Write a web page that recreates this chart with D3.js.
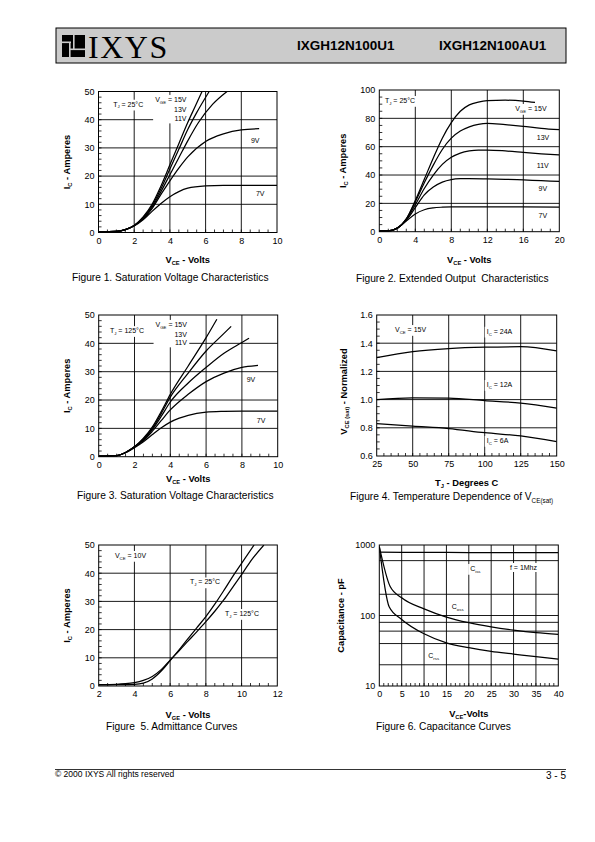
<!DOCTYPE html>
<html><head><meta charset="utf-8">
<script src="https://cdn.jsdelivr.net/npm/d3@7"></script>
<style>
body{margin:0;background:#fff}
svg{display:block}
</style></head><body>
<svg id="page" width="595" height="842"></svg>
<script>
const FONT = '"Liberation Sans", Arial, Helvetica, sans-serif';

// ---------------- header / footer text ----------------
const partNumbers = ["IXGH12N100U1", "IXGH12N100AU1"];
const footerLeft = "© 2000 IXYS All rights reserved";
const footerRight = "3 - 5";

// ---------------- Figure 1 : Saturation (Tj=25C) ----------------
const fig1XTicks = [0, 2, 4, 6, 8, 10];
const fig1YTicks = [0, 10, 20, 30, 40, 50];
const fig1_15V = [[0,0.3],[1,0.4],[1.5,1],[2,2.5],[2.5,5.5],[3,10],[3.5,16.5],[4,24],[4.5,31.5],[5,39],[5.4,44.5],[5.8,50]];
const fig1_13V = [[0,0.3],[1,0.4],[1.5,1],[2,2.5],[2.5,5.3],[3,9.5],[3.5,15.5],[4,22.5],[4.5,29.5],[5,36.5],[5.5,42.5],[6.2,50]];
const fig1_11V = [[0,0.3],[1,0.4],[1.5,1],[2,2.5],[2.5,5],[3,9],[3.5,14.5],[4,20.5],[4.5,26.5],[5,32.5],[5.6,39],[6.4,45.5],[7.2,50]];
const fig1_9V  = [[0,0.3],[1,0.4],[1.5,1],[2,2.5],[2.5,4.8],[3,8.5],[3.5,13.5],[4,18.3],[4.5,22.8],[5,26.8],[6,32.3],[7,35],[8,36.4],[9,36.8]];
const fig1_7V  = [[0,0.3],[1,0.4],[1.5,1],[2,2.3],[2.5,4.5],[3,7.5],[3.5,10.3],[4,12.7],[4.5,14.5],[5,15.7],[6,16.5],[7,16.7],[8,16.7],[10,16.7]];

// ---------------- Figure 2 : Extended output ----------------
const fig2XTicks = [0, 4, 8, 12, 16, 20];
const fig2YTicks = [0, 20, 40, 60, 80, 100];
const fig2_15V = [[0,0.5],[1,0.6],[2,2.5],[3,9],[4,22],[5,37],[6,52],[7,66],[8,77],[9,85],[10,89.5],[11,91.5],[12,92.5],[14,92.8],[16,92.2],[17.3,91.2]];
const fig2_13V = [[0,0.5],[1,0.6],[2,2.5],[3,9],[4,21],[5,34.5],[6,47],[7,58],[8,66],[9,71],[10,74],[11,75.8],[12,76.5],[14,75.5],[16,74.3],[18,73],[20,72]];
const fig2_11V = [[0,0.5],[1,0.6],[2,2.5],[3,8.5],[4,19],[5,30.5],[6,40],[7,47.5],[8,52.5],[9,55.5],[10,57],[11,57.6],[12,57.6],[14,57],[16,56],[18,55],[20,54.2]];
const fig2_9V  = [[0,0.5],[1,0.6],[2,2.5],[3,8],[4,17],[5,26],[6,31.5],[7,35],[8,36.8],[9,37.4],[10,37.5],[12,37.3],[14,37],[16,36.5],[18,36],[20,35.5]];
const fig2_7V  = [[0,0.5],[1,0.6],[2,2.5],[3,7.5],[4,12.5],[5,15.5],[6,16.8],[7,17.3],[8,17.5],[12,17.6],[16,17.5],[20,17.3]];

// ---------------- Figure 3 : Saturation (Tj=125C) ----------------
const fig3XTicks = [0, 2, 4, 6, 8, 10];
const fig3YTicks = [0, 10, 20, 30, 40, 50];
const fig3_15V = [[0,0.2],[1,0.4],[1.5,1.5],[2,3.5],[2.5,6.5],[3,10.5],[3.5,16],[4,22],[5,32],[6,42],[6.6,48.5]];
const fig3_13V = [[0,0.2],[1,0.4],[1.5,1.5],[2,3.5],[2.5,6.3],[3,10],[3.5,15.3],[4,21],[5,29.5],[6,37.3],[7,43.5],[7.4,46]];
const fig3_11V = [[0,0.2],[1,0.4],[1.5,1.5],[2,3.5],[2.5,6],[3,9.6],[3.5,14.3],[4,19.3],[5,26],[6,31.5],[7,36.5],[8,40.3],[8.4,41.8]];
const fig3_9V  = [[0,0.2],[1,0.4],[1.5,1.5],[2,3.5],[2.5,5.7],[3,9],[3.5,12.8],[4,16.5],[5,22],[6,26.5],[7,29.5],[8,31.5],[8.9,32.2]];
const fig3_7V  = [[0,0.2],[1,0.4],[1.5,1.4],[2,3.2],[2.5,5.3],[3,7.8],[3.5,10.2],[4,12.2],[4.5,13.6],[5,14.6],[6,15.7],[7,16],[8,16.1],[10,16.1]];

// ---------------- Figure 4 : Temperature dependence ----------------
const fig4XTicks = [25, 50, 75, 100, 125, 150];
const fig4YTicks = [0.6, 0.8, 1.0, 1.2, 1.4, 1.6];
const fig4_24A = [[25,1.297],[50,1.34],[75,1.362],[100,1.372],[125,1.375],[150,1.345]];
const fig4_12A = [[25,1.0],[50,1.012],[75,1.01],[100,0.993],[125,0.975],[150,0.94]];
const fig4_6A  = [[25,0.83],[50,0.812],[75,0.795],[100,0.765],[125,0.742],[150,0.702]];

// ---------------- Figure 5 : Admittance ----------------
const fig5XTicks = [2, 4, 6, 8, 10, 12];
const fig5YTicks = [0, 10, 20, 30, 40, 50];
const fig5_25C  = [[2,0.4],[3,0.45],[4,0.6],[4.5,1],[5,2.5],[5.5,5.3],[6,9],[6.5,12.8],[7,16.8],[7.5,20.7],[8,24.6],[8.5,29],[9,33.8],[9.5,38.8],[10,43.5],[10.7,50]];
const fig5_125C = [[2,0.5],[3,0.6],[3.5,0.8],[4,1.2],[4.5,2],[5,3.4],[5.5,5.8],[6,9.2],[6.5,12.5],[7,15.9],[7.5,19.3],[8,22.8],[8.5,26.5],[9,30.5],[9.5,35],[10,39.5],[10.5,44.2],[11.25,50]];

// ---------------- Figure 6 : Capacitance ----------------
const fig6XTicks = [0, 5, 10, 15, 20, 25, 30, 35, 40];
const fig6YTicks = [10, 100, 1000];
const fig6_Ciss = [[0,790],[10,786],[20,782],[30,780],[40,778]];
const fig6_Coss = [[0,950],[2.4,260],[5,178],[10,124],[15,95],[20,79],[25,69],[30,62],[35,57],[40,54]];
const fig6_Crss = [[0,950],[2.2,133],[5,88],[10,55],[15,41],[20,35],[25,31],[30,28.4],[35,26],[40,24]];

// ---------------- helpers ----------------
const svg = d3.select('#page');

function rich(text, parts, fs) {
  let shifted = false;
  parts.forEach(p => {
    const isSub = typeof p !== 'string';
    const t = text.append('tspan').text(isSub ? p.s : p);
    if (isSub) {
      t.attr('font-size', fs * 0.62);
      if (!shifted) t.attr('dy', fs * 0.25);
      shifted = true;
    } else {
      if (shifted) t.attr('dy', -fs * 0.25);
      shifted = false;
    }
  });
  return text;
}

function drawChart(c) {
  const g = svg.append('g');
  const x = d3.scaleLinear().domain(c.xDomain).range([c.left, c.right]);
  const y = (c.log ? d3.scaleLog() : d3.scaleLinear()).domain(c.yDomain).range([c.bottom, c.top]);
  const clipId = 'clip' + c.id;
  g.append('clipPath').attr('id', clipId).append('rect')
    .attr('x', c.left).attr('y', c.top).attr('width', c.right - c.left).attr('height', c.bottom - c.top);

  const gridV = g.append('g'), gridH = g.append('g'), maskG = g.append('g'),
        curveG = g.append('g').attr('clip-path', `url(#${clipId})`), labelG = g.append('g'), frameG = g.append('g');

  gridV.selectAll('line').data(c.xGrid).join('line')
    .attr('x1', d => x(d)).attr('x2', d => x(d)).attr('y1', c.top).attr('y2', c.bottom)
    .attr('stroke', '#000').attr('stroke-width', 0.9);
  gridH.selectAll('line').data(c.yGrid).join('line')
    .attr('y1', d => y(d)).attr('y2', d => y(d)).attr('x1', c.left).attr('x2', c.right)
    .attr('stroke', '#000').attr('stroke-width', 0.9);

  const line = d3.line().x(d => x(d[0])).y(d => y(d[1])).curve(d3.curveMonotoneX);
  curveG.selectAll('path').data(c.series).join('path')
    .attr('d', line).attr('fill', 'none').attr('stroke', '#000').attr('stroke-width', 1.25);

  // in-plot labels with white masks
  const groups = {};
  c.labels.forEach((l, i) => {
    const t = labelG.append('text').attr('x', x(l.x)).attr('y', y(l.y))
      .attr('font-family', FONT).attr('font-size', 7).attr('fill', '#000')
      .attr('text-anchor', l.anchor || 'start');
    rich(t, l.parts, 7);
    const b = t.node().getBBox();
    const key = l.group || ('_' + i);
    if (!groups[key]) groups[key] = {x0: b.x, y0: b.y, x1: b.x + b.width, y1: b.y + b.height};
    else {
      const q = groups[key];
      q.x0 = Math.min(q.x0, b.x); q.y0 = Math.min(q.y0, b.y);
      q.x1 = Math.max(q.x1, b.x + b.width); q.y1 = Math.max(q.y1, b.y + b.height);
    }
  });
  Object.values(groups).forEach(q => {
    maskG.append('rect').attr('x', q.x0 - 2).attr('y', q.y0 - 1).attr('width', q.x1 - q.x0 + 4)
      .attr('height', q.y1 - q.y0 + 2).attr('fill', '#fff');
  });

  // minor ticks
  frameG.selectAll('line.mx').data(c.xMinor).join('line').attr('class', 'mx')
    .attr('x1', d => x(d)).attr('x2', d => x(d)).attr('y1', c.bottom).attr('y2', c.bottom - 3)
    .attr('stroke', '#000').attr('stroke-width', 0.8);
  frameG.selectAll('line.my').data(c.yMinor).join('line').attr('class', 'my')
    .attr('y1', d => y(d)).attr('y2', d => y(d)).attr('x1', c.left).attr('x2', c.left + 3)
    .attr('stroke', '#000').attr('stroke-width', 0.8);

  frameG.append('rect').attr('x', c.left).attr('y', c.top).attr('width', c.right - c.left)
    .attr('height', c.bottom - c.top).attr('fill', 'none').attr('stroke', '#000').attr('stroke-width', 1);

  const xa = d3.axisBottom(x).tickValues(c.xTicks).tickSize(0).tickPadding(5).tickFormat(c.xFmt || d3.format('d'));
  const ya = d3.axisLeft(y).tickValues(c.yTicks).tickSize(0).tickPadding(4).tickFormat(c.yFmt || d3.format('d'));
  const gx = frameG.append('g').attr('transform', `translate(0,${c.bottom})`).call(xa);
  const gy = frameG.append('g').attr('transform', `translate(${c.left},0)`).call(ya);
  [gx, gy].forEach(a => {
    a.select('.domain').remove();
    a.attr('font-family', FONT).attr('font-size', 9);
    a.selectAll('text').attr('fill', '#000');
  });

  // titles
  const ty = (c.top + c.bottom) / 2 + (c.yTitleDy || 0);
  const yt = g.append('text').attr('transform', `translate(${c.yTitleX},${ty}) rotate(-90)`)
    .attr('text-anchor', 'middle').attr('font-family', FONT).attr('font-size', 9.3).attr('font-weight', 'bold');
  rich(yt, c.yTitle, 9.3);
  const xt = g.append('text').attr('x', (c.left + c.right) / 2).attr('y', c.xTitleY)
    .attr('text-anchor', 'middle').attr('font-family', FONT).attr('font-size', 9.3).attr('font-weight', 'bold');
  rich(xt, c.xTitle, 9.3);
  const cap = g.append('text').attr('x', c.capX).attr('y', c.capY)
    .attr('font-family', FONT).attr('font-size', 10.2).attr('xml:space', 'preserve');
  rich(cap, c.caption, 10.2);
}

const VCE = ['V', {s: 'CE'}];
const VGE = ['V', {s: 'GE'}];

// ---------------- header ----------------
svg.append('rect').attr('x', 56).attr('y', 28).attr('width', 510).attr('height', 35)
  .attr('fill', '#cbcbcb').attr('stroke', '#000').attr('stroke-width', 1);
const logo = svg.append('g');
logo.append('rect').attr('x', 62).attr('y', 35).attr('width', 23).attr('height', 22).attr('fill', '#000');
[[69, 43, 1.6, 14], [62, 41.5, 9, 1.6], [73, 35, 1.6, 14], [69, 48.5, 16, 1.6]].forEach(r =>
  logo.append('rect').attr('x', r[0]).attr('y', r[1]).attr('width', r[2]).attr('height', r[3]).attr('fill', '#cbcbcb'));
svg.append('text').attr('x', 88).attr('y', 57.5).text('IXYS')
  .attr('font-family', '"Liberation Serif", "DejaVu Serif", serif').attr('font-size', 32).attr('letter-spacing', 1.5);
svg.selectAll('text.pn').data(partNumbers).join('text').attr('class', 'pn')
  .attr('x', (d, i) => [297, 439][i]).attr('y', 50).text(d => d)
  .attr('font-family', FONT).attr('font-weight', 'bold').attr('font-size', 13.5);

// ---------------- footer ----------------
svg.append('line').attr('x1', 55).attr('x2', 566).attr('y1', 769.5).attr('y2', 769.5).attr('stroke', '#000').attr('stroke-width', 0.8);
svg.append('text').attr('x', 55).attr('y', 776.5).text(footerLeft).attr('font-family', FONT).attr('font-size', 8.5);
svg.append('text').attr('x', 566).attr('y', 779).attr('text-anchor', 'end').text(footerRight).attr('font-family', FONT).attr('font-size', 10);

// ---------------- charts ----------------
drawChart({
  id: 1, left: 98.5, right: 277, top: 91.5, bottom: 232.5, xDomain: [0, 10], yDomain: [0, 50],
  xTicks: fig1XTicks, yTicks: fig1YTicks, xGrid: [2, 4, 6, 8], yGrid: [10, 20, 30, 40],
  xMinor: d3.range(0.5, 10, 0.5), yMinor: d3.range(2, 50, 2),
  series: [fig1_15V, fig1_13V, fig1_11V, fig1_9V, fig1_7V],
  labels: [
    {x: 0.82, y: 44.6, parts: ['T', {s: 'J'}, ' = 25°C'], group: 'tj'},
    {x: 4.93, y: 46.3, parts: [...VGE, ' = 15V'], anchor: 'end', group: 'vge'},
    {x: 4.93, y: 42.7, parts: ['13V'], anchor: 'end', group: 'vge'},
    {x: 4.93, y: 39.4, parts: ['11V'], anchor: 'end', group: 'vge'},
    {x: 8.54, y: 31.7, parts: ['9V']},
    {x: 8.82, y: 13.1, parts: ['7V']}
  ],
  yTitle: ['I', {s: 'C'}, ' - Amperes'], yTitleX: 70, xTitle: [...VCE, ' - Volts'], xTitleY: 263,
  caption: ['Figure 1. Saturation Voltage Characteristics'], capX: 72, capY: 281
});

drawChart({
  id: 2, left: 379.3, right: 559.3, top: 90, bottom: 231.7, xDomain: [0, 20], yDomain: [0, 100],
  xTicks: fig2XTicks, yTicks: fig2YTicks, xGrid: [4, 8, 12, 16], yGrid: [20, 40, 60, 80],
  xMinor: d3.range(1, 20, 1), yMinor: d3.range(5, 100, 5),
  series: [fig2_15V, fig2_13V, fig2_11V, fig2_9V, fig2_7V],
  labels: [
    {x: 0.63, y: 90.8, parts: ['T', {s: 'J'}, ' = 25°C'], group: 'tj'},
    {x: 15.1, y: 85.2, parts: [...VGE, ' = 15V']},
    {x: 17.5, y: 65, parts: ['13V']},
    {x: 17.5, y: 45, parts: ['11V']},
    {x: 17.7, y: 28.7, parts: ['9V']},
    {x: 17.7, y: 9.7, parts: ['7V']}
  ],
  yTitle: ['I', {s: 'C'}, ' - Amperes'], yTitleX: 346, xTitle: [...VCE, ' - Volts'], xTitleY: 263,
  caption: ['Figure 2. Extended Output  Characteristics'], capX: 356, capY: 282
});

drawChart({
  id: 3, left: 98.7, right: 277.7, top: 315, bottom: 456.7, xDomain: [0, 10], yDomain: [0, 50],
  xTicks: fig3XTicks, yTicks: fig3YTicks, xGrid: [2, 4, 6, 8], yGrid: [10, 20, 30, 40],
  xMinor: d3.range(0.5, 10, 0.5), yMinor: d3.range(2, 50, 2),
  series: [fig3_15V, fig3_13V, fig3_11V, fig3_9V, fig3_7V],
  labels: [
    {x: 0.63, y: 43.6, parts: ['T', {s: 'J'}, ' = 125°C'], group: 'tj'},
    {x: 4.93, y: 45.8, parts: [...VGE, ' = 15V'], anchor: 'end', group: 'vge'},
    {x: 4.93, y: 42.2, parts: ['13V'], anchor: 'end', group: 'vge'},
    {x: 4.93, y: 39.3, parts: ['11V'], anchor: 'end', group: 'vge'},
    {x: 8.27, y: 26.4, parts: ['9V']},
    {x: 8.83, y: 11.9, parts: ['7V']}
  ],
  yTitle: ['I', {s: 'C'}, ' - Amperes'], yTitleX: 70, xTitle: [...VCE, ' - Volts'], xTitleY: 482,
  caption: ['Figure 3. Saturation Voltage Characteristics'], capX: 77, capY: 499
});

drawChart({
  id: 4, left: 376.7, right: 556.7, top: 315, bottom: 456, xDomain: [25, 150], yDomain: [0.6, 1.6],
  xTicks: fig4XTicks, yTicks: fig4YTicks, xGrid: [50, 75, 100, 125], yGrid: [0.8, 1.0, 1.2, 1.4],
  xMinor: d3.range(30, 150, 5), yMinor: d3.range(0.65, 1.6, 0.05),
  xFmt: d3.format('d'), yFmt: d3.format('.1f'),
  series: [fig4_24A, fig4_12A, fig4_6A],
  labels: [
    {x: 37.7, y: 1.479, parts: [...VCE, ' = 15V']},
    {x: 101.4, y: 1.467, parts: ['I', {s: 'C'}, ' = 24A']},
    {x: 101.4, y: 1.089, parts: ['I', {s: 'C'}, ' = 12A']},
    {x: 101.4, y: 0.692, parts: ['I', {s: 'C'}, ' = 6A']}
  ],
  yTitle: ['V', {s: 'CE (sat)'}, ' - Normalized'], yTitleX: 347, yTitleDy: 6,
  xTitle: ['T', {s: 'J'}, ' - Degrees C'], xTitleY: 486,
  caption: ['Figure 4. Temperature Dependence of V', {s: 'CE(sat)'}], capX: 350, capY: 500
});

drawChart({
  id: 5, left: 98.7, right: 277.3, top: 545, bottom: 686, xDomain: [2, 12], yDomain: [0, 50],
  xTicks: fig5XTicks, yTicks: fig5YTicks, xGrid: [4, 6, 8, 10], yGrid: [10, 20, 30, 40],
  xMinor: d3.range(2.5, 12, 0.5), yMinor: d3.range(2, 50, 2),
  series: [fig5_25C, fig5_125C],
  labels: [
    {x: 2.91, y: 45.4, parts: [...VCE, ' = 10V']},
    {x: 7.11, y: 36, parts: ['T', {s: 'J'}, ' = 25°C']},
    {x: 9.07, y: 24.8, parts: ['T', {s: 'J'}, ' = 125°C']}
  ],
  yTitle: ['I', {s: 'C'}, ' - Amperes'], yTitleX: 70, xTitle: [...VGE, ' - Volts'], xTitleY: 718,
  caption: ['Figure  5. Admittance Curves'], capX: 106, capY: 730
});

drawChart({
  id: 6, left: 379.3, right: 558.3, top: 545, bottom: 686, xDomain: [0, 40], yDomain: [10, 1000], log: true,
  xTicks: fig6XTicks, yTicks: fig6YTicks, xGrid: [5, 10, 15, 20, 25, 30, 35], yGrid: [20, 40, 60, 80, 100, 200, 600],
  xMinor: d3.range(1, 40, 1), yMinor: [],
  series: [fig6_Ciss, fig6_Coss, fig6_Crss],
  labels: [
    {x: 20.3, y: 428, parts: ['C', {s: 'iss'}]},
    {x: 29.2, y: 442, parts: ['f = 1Mhz']},
    {x: 16.2, y: 122, parts: ['C', {s: 'oss'}]},
    {x: 10.95, y: 24.9, parts: ['C', {s: 'rss'}]}
  ],
  yTitle: ['Capacitance - pF'], yTitleX: 344, xTitle: [...VCE, '-Volts'], xTitleY: 717,
  caption: ['Figure 6. Capacitance Curves'], capX: 376, capY: 730
});
</script>
</body></html>
